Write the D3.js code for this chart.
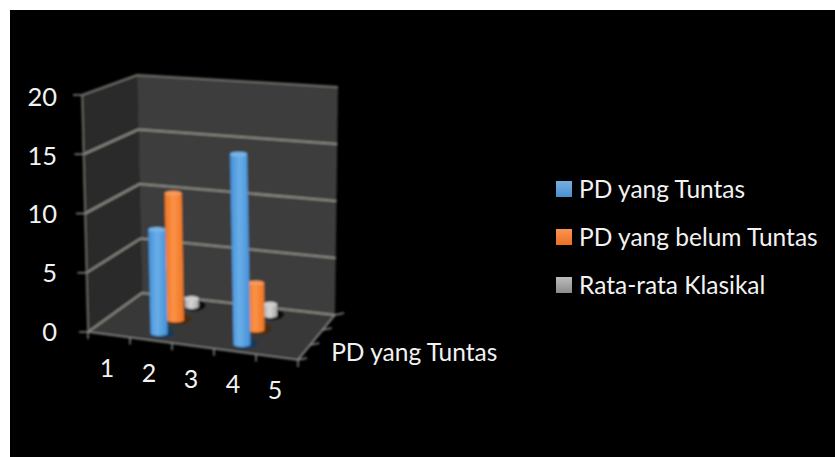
<!DOCTYPE html>
<html>
<head>
<meta charset="utf-8">
<script src="https://cdn.jsdelivr.net/npm/d3@7"></script>
<style>
  html, body { margin: 0; padding: 0; background: #fff; }
  text { font-family: Lato, "Open Sans", sans-serif; fill: #f2f2f2; }
</style>
</head>
<body>
<div id="chart"></div>
<script>
// values
var categories = ["1", "2", "3", "4", "5"];
var seriesNames = ["PD yang Tuntas", "PD yang belum Tuntas", "Rata-rata Klasikal"];
var depthLabels = ["PD yang Tuntas"];
var tuntas = [null, 8.8, null, 15.8, null];
var belumTuntas = [null, 11, null, 4, null];
var rataRata = [null, 0.7, null, 1, null];
var yTicks = [0, 5, 10, 15, 20];

var seriesValues = [tuntas, belumTuntas, rataRata];
var seriesColors = [
    { light: "#6aaee8", mid: "#4290d8", top: "#79b4e6", base: "#16395a", key: ["#78aee2", "#4a8fd0"] },
    { light: "#fb9248", mid: "#ee7420", top: "#f59a5c", base: "#48290f", key: ["#f89458", "#ec701e"] },
    { light: "#d6d6d6", mid: "#a8a8a8", top: "#cfcfcf", base: "#101010", key: ["#bcbcbc", "#8c8c8c"] }
];

var width = 835, height = 457;

var svg = d3.select("#chart").append("svg")
    .attr("width", width)
    .attr("height", height)
    .style("display", "block");

svg.append("rect")
    .attr("x", 10).attr("y", 10)
    .attr("width", width - 10).attr("height", height - 10)
    .attr("fill", "#000");

// scales in the chart's own box, all running 0..1
var xScale = d3.scaleBand().domain(categories).range([0, 1]);
var yScale = d3.scaleLinear().domain([0, 20]).range([0, 1]);
var zScale = d3.scaleBand().domain(seriesNames).range([0, 1]);

// corners of the box on screen: floor and top, front and back
var box = {
    floor: { fl: [88, 332], fr: [298, 360], bl: [142, 293], br: [335, 315] },
    top: { fl: [82, 95], fr: [293, 113], bl: [137, 75], br: [338, 87] }
};

function corner(c, u, d) {
    var front = d3.interpolateNumberArray(c.fl, c.fr)(u);
    var back = d3.interpolateNumberArray(c.bl, c.br)(u);
    return d3.interpolateNumberArray(front, back)(d);
}

function project(u, v, d) {
    return d3.interpolateNumberArray(corner(box.floor, u, d), corner(box.top, u, d))(v);
}

var line = d3.line();

var defs = svg.append("defs");
var blur = defs.append("filter").attr("id", "soft")
    .attr("x", "-5%").attr("y", "-5%").attr("width", "110%").attr("height", "110%");
blur.append("feGaussianBlur").attr("stdDeviation", 1);

seriesColors.forEach(function (c, i) {
    var g = defs.append("linearGradient").attr("id", "cyl" + i)
        .attr("x1", 0).attr("y1", 0).attr("x2", 1).attr("y2", 0);
    g.append("stop").attr("offset", "0%").attr("stop-color", c.mid);
    g.append("stop").attr("offset", "45%").attr("stop-color", c.light);
    g.append("stop").attr("offset", "100%").attr("stop-color", c.mid);
    var k = defs.append("linearGradient").attr("id", "key" + i)
        .attr("x1", 0).attr("y1", 0).attr("x2", 0).attr("y2", 1);
    k.append("stop").attr("offset", "0%").attr("stop-color", c.key[0]);
    k.append("stop").attr("offset", "100%").attr("stop-color", c.key[1]);
});

var plot = svg.append("g").attr("filter", "url(#soft)");

// walls and floor
function quad(pts, fill) {
    plot.append("path").attr("d", line(pts) + "Z").attr("fill", fill);
}
quad([project(0, 0, 0), project(0, 1, 0), project(0, 1, 1), project(0, 0, 1)], "#2a2a2a");
quad([project(0, 0, 1), project(0, 1, 1), project(1, 1, 1), project(1, 0, 1)], "#3c3c3c");
quad([project(0, 0, 0), project(1, 0, 0), project(1, 0, 1), project(0, 0, 1)], "#383838");

// gridlines along the left and back walls
var gridColor = "#8e8e86";
yTicks.forEach(function (t) {
    var v = yScale(t);
    plot.append("path")
        .attr("d", line([project(0, v, 0), project(0, v, 1), project(1, v, 1)]))
        .attr("fill", "none")
        .attr("stroke", t === 20 ? "#70706a" : gridColor)
        .attr("stroke-width", 2);
});
plot.append("path")
    .attr("d", line([project(0, 0, 0), project(0, 1, 0)]))
    .attr("fill", "none").attr("stroke", "#77776f").attr("stroke-width", 1.5);

// axis edges and tick marks
var axisColor = "#8a8a8a";
function stroke(p, q) {
    plot.append("path").attr("d", line([p, q]))
        .attr("fill", "none").attr("stroke", axisColor).attr("stroke-width", 1.5);
}
stroke(project(0, 0, 0), project(1, 0, 0));
stroke(project(1, 0, 0), project(1, 0, 1));
yTicks.forEach(function (t) {
    var p = project(0, yScale(t), 0);
    stroke(p, [p[0] - 9, p[1]]);
});
d3.range(categories.length + 1).forEach(function (i) {
    var p = project(i / categories.length, 0, 0);
    stroke(p, [p[0], p[1] + 7]);
});
d3.range(seriesNames.length + 1).forEach(function (i) {
    var p = project(1, 0, i / seriesNames.length);
    stroke(p, [p[0] + 9, p[1] - 2]);
});

// cylinders, back row first so the front ones cover them
var radius = 8.5, ry = 2.5;
d3.range(seriesNames.length - 1, -1, -1).forEach(function (s) {
    var d = zScale(seriesNames[s]) + zScale.bandwidth() / 2;
    categories.forEach(function (cat, i) {
        var val = seriesValues[s][i];
        if (val === null) return;
        var u = xScale(cat) + xScale.bandwidth() / 2;
        var b = project(u, 0, d);
        var t = project(u, yScale(val), d);
        var c = seriesColors[s];
        var r = s === 2 ? 7 : radius;

        plot.append("ellipse")
            .attr("cx", b[0] + 3).attr("cy", b[1] - 1)
            .attr("rx", r + 4).attr("ry", ry + 3)
            .attr("fill", c.base);
        plot.append("path")
            .attr("d", "M" + (b[0] - r) + "," + b[1]
                + "L" + (t[0] - r) + "," + t[1]
                + "L" + (t[0] + r) + "," + t[1]
                + "L" + (b[0] + r) + "," + b[1]
                + "A" + r + "," + ry + " 0 0 1 " + (b[0] - r) + "," + b[1] + "Z")
            .attr("fill", "url(#cyl" + s + ")");
        plot.append("ellipse")
            .attr("cx", t[0]).attr("cy", t[1])
            .attr("rx", r).attr("ry", ry)
            .attr("fill", c.top);
    });
});

// tick labels, the upper ones sit a little under their tick
var yLabelShift = d3.scaleLinear().domain([0, 20]).range([0, 2]);
yTicks.forEach(function (t) {
    var p = project(0, yScale(t), 0);
    svg.append("text")
        .attr("x", 57).attr("y", p[1] + yLabelShift(t))
        .attr("dy", "0.35em")
        .attr("text-anchor", "end")
        .attr("font-size", 25.5)
        .text(t);
});
categories.forEach(function (cat) {
    var p = project(xScale(cat) + xScale.bandwidth() / 2, 0, 0);
    svg.append("text")
        .attr("x", p[0] - 2).attr("y", p[1] + 33)
        .attr("dy", "0.35em")
        .attr("text-anchor", "middle")
        .attr("font-size", 25)
        .text(cat);
});
depthLabels.forEach(function (name) {
    var p = project(1, 0, zScale(name) + zScale.bandwidth() / 2);
    svg.append("text")
        .attr("x", p[0] + 27).attr("y", p[1])
        .attr("dy", "0.35em")
        .attr("font-size", 24.5)
        .text(name);
});

// legend
var legendY = d3.scalePoint().domain(seriesNames).range([189, 285]);
var legend = svg.selectAll(".legend").data(seriesNames).enter().append("g")
    .attr("class", "legend")
    .attr("transform", function (d) { return "translate(556," + legendY(d) + ")"; });
legend.append("rect")
    .attr("x", 0).attr("y", -8)
    .attr("width", 16).attr("height", 16)
    .attr("fill", function (d, i) { return "url(#key" + i + ")"; });
legend.append("text")
    .attr("x", 23)
    .attr("dy", "0.35em")
    .attr("font-size", 24.5)
    .text(function (d) { return d; });
</script>
</body>
</html>
